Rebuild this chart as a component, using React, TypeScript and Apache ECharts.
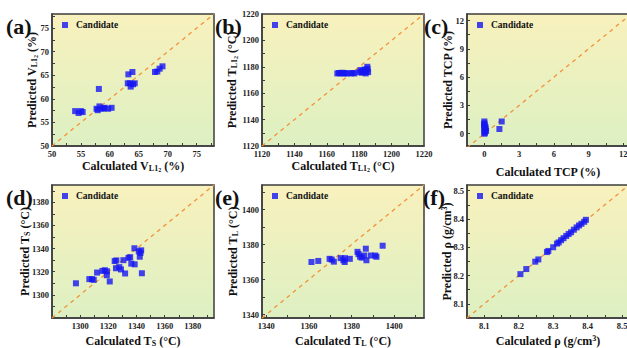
import React, { useEffect, useRef } from "react";
import * as echarts from "echarts";

const FONT = '"Liberation Serif", "Times New Roman", serif';

// ---- data ----
const aCalc = [54.0, 54.6, 55.0, 55.3, 57.7, 57.9, 58.1, 58.2, 58.6, 59.1, 59.7, 60.3, 58.9, 63.1, 63.2, 63.5, 63.6, 63.9, 64.0, 64.3, 67.8, 68.2, 68.6, 69.1];
const aPred = [57.4, 57.0, 57.4, 57.2, 57.9, 57.6, 62.1, 58.4, 57.9, 58.1, 57.9, 58.1, 58.0, 63.3, 65.2, 63.3, 62.6, 65.7, 63.1, 63.3, 65.7, 65.8, 66.4, 66.9];

const bCalc = [1166.5, 1167.5, 1168.5, 1169.5, 1170.5, 1171.5, 1172.5, 1175, 1176, 1177, 1180, 1180.8, 1181.5, 1182, 1182.8, 1183.5, 1184, 1184.5, 1185, 1185.5, 1185.2, 1184.2];
const bPred = [1175, 1175.3, 1175, 1175.5, 1175, 1175.2, 1175, 1175, 1175.3, 1175, 1176, 1177.5, 1175.5, 1177, 1176, 1178, 1175, 1177, 1180, 1176, 1178.5, 1176.5];

const cCalc = [0, 0, 0.05, 0, 0.1, 0, 0, 0, 0.1, 0.15, 0.05, 0, 0, 1.3, 1.5];
const cPred = [0, 0.2, 0.4, 0.6, 0.7, 0.9, 1.1, 1.3, 0.5, 0.3, 0.1, 0.8, 1.0, 0.5, 1.3];

const dCalc = [1297, 1306.5, 1308.4, 1309.6, 1312, 1315.8, 1317.5, 1319, 1318.9, 1321, 1324.5, 1325.7, 1325.4, 1327.8, 1329, 1330.7, 1331.9, 1334.3, 1335.5, 1336.3, 1338.5, 1338.7, 1341.6, 1342.8, 1342.3, 1343.3, 1343.8];
const dPred = [1310, 1313.6, 1313.6, 1313, 1319.3, 1320.7, 1321.3, 1320.4, 1317, 1311.6, 1329.2, 1329.8, 1323, 1324, 1322, 1330, 1318.5, 1332, 1332.6, 1327, 1340.3, 1326.4, 1337.7, 1336.3, 1333, 1338.5, 1318.7];

const eCalc = [1361.2, 1364.4, 1369.7, 1370.7, 1371.7, 1374.9, 1376.2, 1376.8, 1376.9, 1379.2, 1382.8, 1383.3, 1384, 1384.8, 1385.9, 1386.7, 1387, 1389, 1391.1, 1391.7, 1394.6];
const ePred = [1370, 1370.6, 1371.8, 1371.4, 1370.2, 1372.2, 1371, 1370, 1372.2, 1371.8, 1375.8, 1374.5, 1373, 1372.5, 1373.7, 1377.6, 1371, 1373.7, 1373.7, 1373, 1379.3];

const fCalc = [8.205, 8.222, 8.248, 8.257, 8.282, 8.286, 8.3, 8.311, 8.316, 8.323, 8.33, 8.338, 8.345, 8.352, 8.36, 8.368, 8.375, 8.382, 8.39, 8.395];
const fPred = [8.205, 8.223, 8.249, 8.257, 8.283, 8.287, 8.3, 8.313, 8.317, 8.325, 8.332, 8.34, 8.347, 8.353, 8.362, 8.37, 8.377, 8.383, 8.39, 8.397];

const aTicks = [50, 55, 60, 65, 70, 75];
const bTicks = [1120, 1140, 1160, 1180, 1200, 1220];
const cTicks = [0, 3, 6, 9, 12];
const dTicks = [1300, 1320, 1340, 1360, 1380];
const eTicks = [1340, 1360, 1380, 1400];
const fTicks = [8.1, 8.2, 8.3, 8.4, 8.5];

const panelLetters = ["(a)", "(b)", "(c)", "(d)", "(e)", "(f)"];
const xNames = [
  "{b|Calculated V}{s|L1}{ss|2}{b| (%)}",
  "{b|Calculated T}{s|L1}{ss|2}{b| (°C)}",
  "{b|Calculated TCP (%)}",
  "{b|Calculated T}{s|S}{b| (°C)}",
  "{b|Calculated T}{s|L}{b| (°C)}",
  "{b|Calculated ρ (g/cm}{sup|3}{b|)}",
];
const yNames = [
  "{b|Predicted V}{s|L1}{ss|2}{b| (%)}",
  "{b|Predicted T}{s|L1}{ss|2}{b| (°C)}",
  "{b|Predicted TCP (%)}",
  "{b|Predicted T}{s|S}{b| (°C)}",
  "{b|Predicted T}{s|L}{b| (°C)}",
  "{b|Predicted ρ (g/cm}{sup|3}{b|)}",
];

const App: React.FC = () => {
  const ref = useRef<HTMLDivElement>(null);
  useEffect(() => {
    if (!ref.current) return;
    const chart = echarts.init(ref.current, undefined, { renderer: "svg" });

    const panels = [
      { calc: aCalc, pred: aPred, ticks: aTicks, xr: [50, 78], yr: [50, 78], grid: [52, 14, 162, 132], yNameX: 32, xGap: 13.5, dec: 0 },
      { calc: bCalc, pred: bPred, ticks: bTicks, xr: [1120, 1220], yr: [1120, 1220], grid: [262, 14, 162, 132], yNameX: 232, xGap: 13.5, dec: 0 },
      { calc: cCalc, pred: cPred, ticks: cTicks, xr: [-1.5, 12.5], yr: [-1.3, 12.7], grid: [467, 14, 162, 132], yNameX: 448, xGap: 19.5, dec: 0 },
      { calc: dCalc, pred: dPred, ticks: dTicks, xr: [1280, 1395], yr: [1280, 1395], grid: [52, 185, 162, 133], yNameX: 25, xGap: 16, dec: 0 },
      { calc: eCalc, pred: ePred, ticks: eTicks, xr: [1338, 1414], yr: [1338, 1414], grid: [262, 185, 162, 133], yNameX: 233, xGap: 16, dec: 0 },
      { calc: fCalc, pred: fPred, ticks: fTicks, xr: [8.05, 8.52], yr: [8.05, 8.52], grid: [467, 185, 162, 133], yNameX: 447, xGap: 16, dec: 1 },
    ];

    const rich: any = {
      b: { fontFamily: FONT, fontWeight: "bold", fontSize: 12, lineHeight: 13, fill: "#111", color: "#111" },
      s: { fontFamily: FONT, fontWeight: "bold", fontSize: 8, lineHeight: 8, verticalAlign: "bottom", fill: "#111", color: "#111" },
      ss: { fontFamily: FONT, fontWeight: "bold", fontSize: 6, lineHeight: 5, verticalAlign: "bottom", fill: "#111", color: "#111" },
      sup: { fontFamily: FONT, fontWeight: "bold", fontSize: 8, lineHeight: 8, verticalAlign: "top", fill: "#111", color: "#111" },
    };

    const bg = () =>
      new echarts.graphic.LinearGradient(0, 0, 0, 1, [
        { offset: 0, color: "#f8f1bd" },
        { offset: 1, color: "#ddf0c2" },
      ]);

    const grids: any[] = [];
    const xAxes: any[] = [];
    const yAxes: any[] = [];
    const series: any[] = [];
    const legends: any[] = [];
    const graphics: any[] = [];

    panels.forEach((p, i) => {
      const [l, t, w, h] = p.grid;
      grids.push({
        left: l, top: t, width: w, height: h,
        show: true, backgroundColor: bg(), borderColor: "#3c3c3c", borderWidth: 1.5,
        containLabel: false, outerBoundsMode: "none",
      });
      const step = p.ticks[1] - p.ticks[0];
      const minorT: number[] = [p.ticks[0] - step / 2];
      for (let k = 0; k < p.ticks.length; k++) {
        minorT.push(p.ticks[k]);
        minorT.push(p.ticks[k] + step / 2);
      }
      const common = (rng: number[]) => ({
        type: "value",
        gridIndex: i,
        min: rng[0],
        max: rng[1],
        splitLine: { show: false },
        axisLine: { show: true, onZero: false, lineStyle: { color: "#3c3c3c", width: 1.5 } },
        axisTick: {
          show: true, inside: true, length: 3,
          customValues: minorT.filter((v) => v > rng[0] && v < rng[1]),
          lineStyle: { color: "#3c3c3c", width: 1 },
        },
        axisLabel: {
          customValues: p.ticks,
          fontFamily: FONT, fontWeight: "bold", fontSize: 8.5, color: "#222", margin: 3,
          formatter: (v: number) => (p.dec ? v.toFixed(p.dec) : String(Math.round(v))),
        },
      });
      xAxes.push({ ...common(p.xr), name: xNames[i], nameLocation: "middle", nameGap: p.xGap, nameTextStyle: { rich } });
      yAxes.push({ ...common(p.yr) });

      graphics.push({
        type: "text",
        x: p.yNameX,
        y: t + h / 2,
        rotation: Math.PI / 2,
        style: { text: yNames[i], rich, align: "center", verticalAlign: "middle", fill: "#111" },
      });

      const lo = Math.min(p.xr[0], p.yr[0]);
      const hi = Math.max(p.xr[1], p.yr[1]);
      series.push({
        name: "diag" + i, type: "line", xAxisIndex: i, yAxisIndex: i,
        data: [[lo, lo], [hi, hi]], showSymbol: false, silent: true, clip: true, z: 1,
        lineStyle: { color: "#f4923a", type: [4, 4], width: 1.3 },
      });
      series.push({
        name: "Candidate", type: "scatter", xAxisIndex: i, yAxisIndex: i,
        data: p.calc.map((c, k) => [c, p.pred[k]]),
        symbol: "rect", symbolSize: 6, z: 3,
        itemStyle: { color: "#1717f2" },
      });
      legends.push({
        data: ["Candidate"], left: l + 10, top: t + 6, padding: 0,
        icon: "rect", itemWidth: 6, itemHeight: 6, itemGap: 5,
        selectedMode: false,
        textStyle: { fontFamily: FONT, fontWeight: "bold", fontSize: 9.5, color: "#111", padding: [0, 0, 0, 3] },
      });
      graphics.push({
        type: "text",
        left: [6, 215, 424, 6, 215, 423][i],
        top: t + 1,
        style: { text: panelLetters[i], font: `bold 22px ${FONT}`, fill: "#111" },
      });
    });

    chart.setOption({
      animation: false,
      backgroundColor: "#ffffff",
      grid: grids,
      xAxis: xAxes,
      yAxis: yAxes,
      legend: legends,
      series,
      graphic: graphics,
    });
    return () => chart.dispose();
  }, []);

  return <div ref={ref} style={{ position: "absolute", left: 0, top: 0, width: 627, height: 348 }} />;
};

export default App;
